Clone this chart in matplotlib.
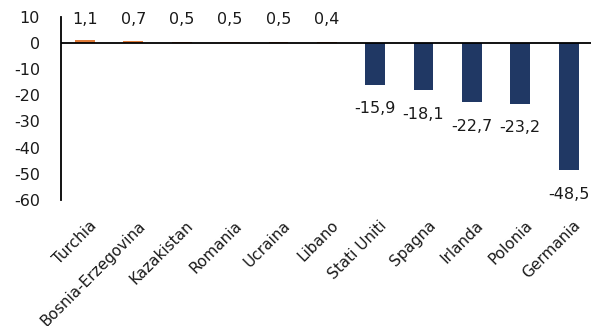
import matplotlib.pyplot as plt
import matplotlib.transforms as mtransforms
import numpy as np

plt.rcParams["font.family"] = ["DejaVu Sans"]

# Data
countries = ['Turchia', 'Bosnia-Erzegovina', 'Kazakistan', 'Romania', 'Ucraina', 'Libano',
             'Stati Uniti', 'Spagna', 'Irlanda', 'Polonia', 'Germania']
values = [1.1, 0.7, 0.5, 0.5, 0.5, 0.4, -15.9, -18.1, -22.7, -23.2, -48.5]
yticks = [10, 0, -10, -20, -30, -40, -50, -60]

orange = '#E07B39'
navy = '#203864'
text_col = '#1a1a1a'

fig = plt.figure(figsize=(5.91, 3.26), dpi=100)
ax = fig.add_axes([0.103, 0.387, 0.900, 0.561])

x = np.arange(len(countries))
colors = [orange if v > 0 else navy for v in values]
ax.bar(x, values, width=0.41, color=colors, zorder=2)
ax.axhline(0, color='black', linewidth=1.3, zorder=3)

# Value labels: positives in a row above the zero line, negatives under the bars
for xi, v in zip(x, values):
    label = f"{v:.1f}".replace('.', ',')
    if v > 0:
        ax.annotate(label, xy=(xi, 0), xytext=(0, 17), textcoords='offset points',
                    ha='center', va='center', fontsize=11.5, color=text_col)
    else:
        ax.annotate(label, xy=(xi, v), xytext=(0, -17.5), textcoords='offset points',
                    ha='center', va='center', fontsize=11.5, color=text_col,
                    annotation_clip=False)

ax.set_xlim(-0.5, len(countries) - 0.5)
ax.set_ylim(-60, 10)
ax.set_yticks(yticks)
ax.set_yticklabels([str(t) for t in yticks], fontsize=11.5, color=text_col)
ax.tick_params(axis='y', length=0, pad=15)

ax.set_xticks(x)
ax.set_xticklabels(countries, rotation=45, ha='right', va='top',
                   rotation_mode='anchor', fontsize=11, color=text_col)
ax.tick_params(axis='x', length=0, pad=13)
shift = mtransforms.ScaledTranslation(3 / 72, 0, fig.dpi_scale_trans)
for lbl in ax.get_xticklabels():
    lbl.set_transform(lbl.get_transform() + shift)

ax.spines['top'].set_visible(False)
ax.spines['right'].set_visible(False)
ax.spines['bottom'].set_visible(False)
ax.spines['left'].set_linewidth(1.3)

fig.savefig('out.png', dpi=100)
